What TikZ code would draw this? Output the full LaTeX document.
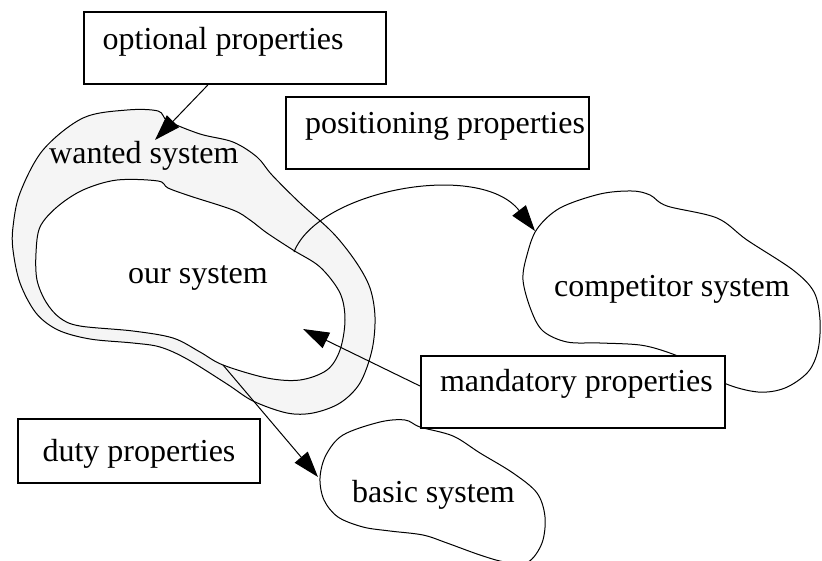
\documentclass[tikz,border=0pt]{standalone}
\usepackage{fontspec}
\setmainfont{Liberation Serif}
\usetikzlibrary{arrows.meta}
\definecolor{bandgray}{HTML}{F5F5F5}
\tikzset{
  blob/.style={line width=1pt, line join=round},
  conn/.style={line width=1pt, -{Triangle[length=26pt,width=17pt]}},
  propbox/.style={draw, line width=2pt, fill=white, anchor=north west,
    inner xsep=19pt, inner ysep=0pt, font=\fontsize{32}{38}\selectfont},
  txt/.style={anchor=base west, inner sep=0pt, font=\fontsize{32}{38}\selectfont}
}
\begin{document}
\begin{tikzpicture}[x=1pt,y=-1pt]
  \useasboundingbox (0,0) rectangle (822,560);
  \clip (0,0) rectangle (822,560);

  % wanted system: shaded outer region
  \draw[blob, fill=bandgray] plot[smooth cycle, tension=0.55] coordinates {
    (13,227) (20,193) (43,150) (83,118) (127,110) (158,111) (168,121)
    (200,134) (233,142) (257,157) (272,175) (300,203) (333,233) (356,262)
    (370,288) (375,317) (372,350) (360,383) (340,403) (313,413) (287,413)
    (253,401) (227,384) (187,359) (160,347) (133,343) (90,339) (58,330)
    (36,313) (20,283) (13,250)};

  % our system: inner region
  \draw[blob, fill=white] plot[smooth cycle, tension=0.55] coordinates {
    (117,180) (158,181) (168,188) (190,196) (233,210) (250,220) (267,233)
    (293,250) (320,267) (340,293) (345,320) (340,350) (327,370) (300,380)
    (267,378) (223,365) (200,352) (173,338) (133,331) (80,326) (60,318)
    (46,302) (37,280) (36,253) (40,227) (57,207) (83,190)};

  % competitor system
  \draw[blob, fill=white] plot[smooth cycle, tension=0.55] coordinates {
    (523,280) (527,255) (537,229) (560,208) (600,194) (632,191) (650,195)
    (667,206) (717,218) (747,240) (793,270) (814,292) (820,320) (818,350)
    (808,372) (785,388) (758,392) (724,383) (690,362) (667,352) (640,345)
    (600,343) (567,342) (543,331) (531,310)};

  % basic system
  \draw[blob, fill=white] plot[smooth cycle, tension=0.55] coordinates {
    (320,478) (326,455) (343,435) (380,422) (405,420) (420,427) (453,436)
    (480,453) (513,473) (537,493) (545,517) (542,543) (528,562) (505,562)
    (480,555) (447,543) (423,535) (390,531) (363,527) (338,517) (324,500)};

  % region labels
  \node[txt] (wanted) at (49,163) {wanted system};
  \node[txt] (our) at (128,283) {our system};
  \node[txt] (comp) at (554,296) {competitor system};
  \node[txt] (basic) at (352,502) {basic system};

  % attachment points on the region outlines
  \coordinate (wantIn) at (155,140);
  \coordinate (ourTop) at (294,252);
  \coordinate (ourBot) at (223,365);
  \coordinate (ourIn)  at (303,329);
  \coordinate (compIn) at (535,231);
  \coordinate (basicIn) at (318,477);

  % property boxes
  \node[propbox, text height=37pt, text depth=35pt] (opt) at (82.7,11)
    {\makebox[264.3pt][l]{optional properties}};
  \node[propbox, text height=36pt, text depth=36pt] (pos) at (285,96)
    {\makebox[265pt][l]{positioning properties}};
  \node[propbox, text height=42pt, text depth=22pt] (duty) at (17,418)
    {\makebox[204pt][c]{duty properties}};

  % connectors
  \draw[conn] (ourTop) .. controls (318,190) and (480,160) .. (compIn);
  \draw[conn] (ourBot) -- (basicIn);
  \draw[conn] ([xshift=-27pt]opt.south) -- (wantIn);

  \node[propbox, text height=35pt, text depth=37pt] (man) at (420,355)
    {\makebox[266pt][l]{mandatory properties}};
  \draw[conn] ([yshift=6pt]man.west) -- (ourIn);
\end{tikzpicture}
\end{document}
